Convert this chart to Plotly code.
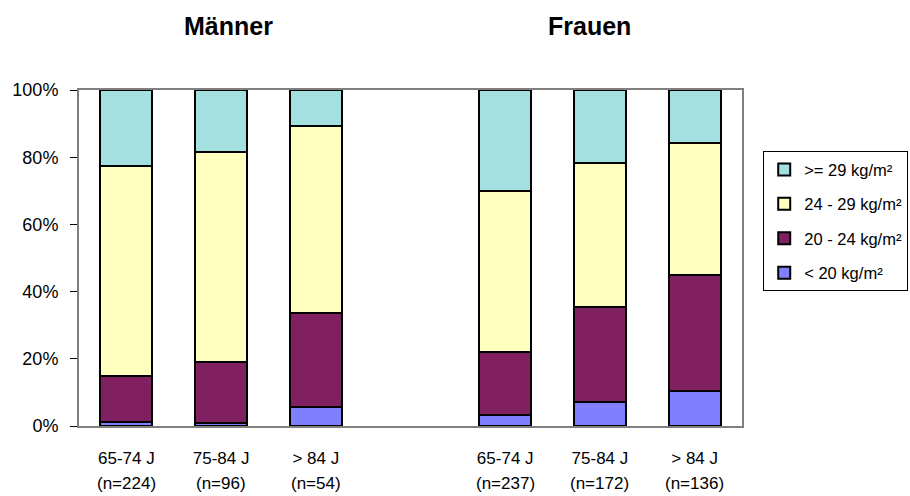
import plotly.graph_objects as go

# Age groups per sex; position 3 stays empty to separate men and women
positions = [0, 1, 2, 4, 5, 6]
age_labels = ["65-74 J", "75-84 J", "> 84 J", "65-74 J", "75-84 J", "> 84 J"]
n_labels = ["(n=224)", "(n=96)", "(n=54)", "(n=237)", "(n=172)", "(n=136)"]

# BMI class shares (fraction of each age group)
bmi_lt20 = [0.013, 0.010, 0.056, 0.033, 0.072, 0.104]
bmi_20_24 = [0.137, 0.180, 0.279, 0.188, 0.283, 0.345]
bmi_24_29 = [0.624, 0.626, 0.557, 0.478, 0.427, 0.392]
bmi_ge29 = [0.226, 0.184, 0.108, 0.301, 0.218, 0.159]

series = [
    ("< 20 kg/m²", bmi_lt20, "#8080FF"),
    ("20 - 24 kg/m²", bmi_20_24, "#802060"),
    ("24 - 29 kg/m²", bmi_24_29, "#FFFFC0"),
    (">= 29 kg/m²", bmi_ge29, "#A4E0E0"),
]

FONT = "Liberation Sans, Arial, sans-serif"

fig = go.Figure()
for i, (name, vals, color) in enumerate(series):
    fig.add_trace(go.Bar(
        x=positions, y=vals, name=name,
        width=0.55,
        legendgroup=f"g{i}",
        legendrank=len(series) - i,
        marker=dict(color=color, line=dict(color="black", width=2)),
        hoverinfo="name+y",
    ))

annotations = []
for pos, txt in zip(positions, n_labels):
    annotations.append(dict(
        x=pos, xref="x", y=-0.17, yref="paper", text=txt, showarrow=False,
        font=dict(family=FONT, size=17, color="black"), yanchor="middle",
    ))
for xp, txt in [(0.226, "Männer"), (0.770, "Frauen")]:
    annotations.append(dict(
        x=xp, xref="paper", y=1.19, yref="paper", text=f"<b>{txt}</b>",
        showarrow=False, font=dict(family=FONT, size=25, color="black"),
        xanchor="center", yanchor="middle",
    ))

fig.update_layout(
    width=910, height=496,
    barmode="stack",
    paper_bgcolor="white", plot_bgcolor="white",
    margin=dict(l=79, r=168, t=90, b=70, autoexpand=False),
    font=dict(family=FONT, size=17, color="black"),
    showlegend=True,
    legend=dict(
        x=1.032, xanchor="left", y=0.818, yanchor="top",
        traceorder="grouped", tracegroupgap=10,
        bordercolor="black", borderwidth=1,
        font=dict(family=FONT, size=16.5, color="black"),
        bgcolor="white",
    ),
    xaxis=dict(
        range=[-0.5, 6.5], tickvals=positions, ticktext=age_labels,
        showline=True, linecolor="#808080", linewidth=2, mirror=True,
        ticks="", showgrid=False, zeroline=False, ticklabelstandoff=16,
        tickfont=dict(family=FONT, size=17),
    ),
    yaxis=dict(
        range=[0, 1], dtick=0.2, tickformat=".0%",
        showline=True, linecolor="#808080", linewidth=2, mirror=True,
        ticks="outside", ticklen=7, tickcolor="black", tickwidth=1,
        showgrid=False, zeroline=False, ticklabelstandoff=8,
        tickfont=dict(family=FONT, size=18),
    ),
    annotations=annotations,
)

fig.write_html("out.html")
